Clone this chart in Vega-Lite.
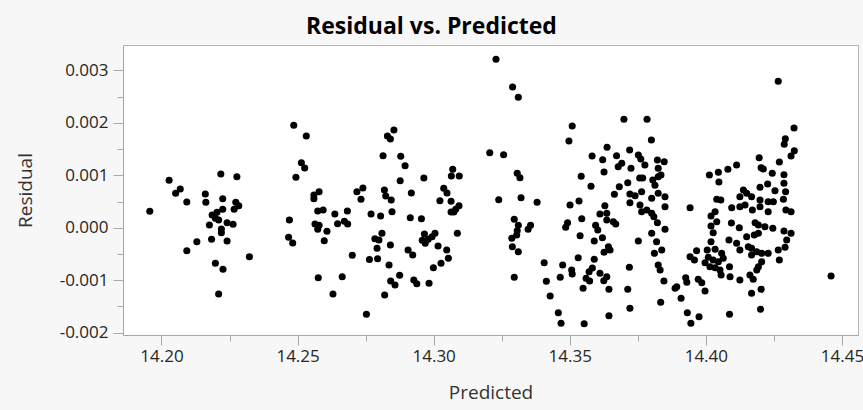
{
  "$schema": "https://vega.github.io/schema/vega-lite/v6.json",
  "width": 735,
  "height": 290,
  "autosize": {"type": "none"},
  "padding": {"left": 123, "top": 45, "right": 5, "bottom": 75},
  "background": "#f7f7f7",
  "title": {
    "text": "Residual vs. Predicted",
    "font": "Open Sans",
    "fontSize": 23,
    "fontWeight": "bold",
    "color": "#000000",
    "anchor": "middle",
    "dx": -59,
    "offset": 6
  },
  "data": {
    "values": [
      {"Predicted": 14.1957, "Residual": 0.000313},
      {"Predicted": 14.2028, "Residual": 0.000904},
      {"Predicted": 14.2069, "Residual": 0.000738},
      {"Predicted": 14.2052, "Residual": 0.000656},
      {"Predicted": 14.2093, "Residual": 0.000490},
      {"Predicted": 14.2218, "Residual": 0.001025},
      {"Predicted": 14.2277, "Residual": 0.000973},
      {"Predicted": 14.2161, "Residual": 0.000643},
      {"Predicted": 14.2163, "Residual": 0.000485},
      {"Predicted": 14.2225, "Residual": 0.000553},
      {"Predicted": 14.2273, "Residual": 0.000485},
      {"Predicted": 14.2284, "Residual": 0.000420},
      {"Predicted": 14.2267, "Residual": 0.000351},
      {"Predicted": 14.2225, "Residual": 0.000351},
      {"Predicted": 14.2204, "Residual": 0.000294},
      {"Predicted": 14.2186, "Residual": 0.000242},
      {"Predicted": 14.2210, "Residual": 0.000147},
      {"Predicted": 14.2198, "Residual": 0.000179},
      {"Predicted": 14.2176, "Residual": 0.000052},
      {"Predicted": 14.2241, "Residual": 0.000095},
      {"Predicted": 14.2263, "Residual": 0.000065},
      {"Predicted": 14.2220, "Residual": -0.000025},
      {"Predicted": 14.2220, "Residual": -0.000095},
      {"Predicted": 14.2184, "Residual": -0.000221},
      {"Predicted": 14.2241, "Residual": -0.000254},
      {"Predicted": 14.2130, "Residual": -0.000267},
      {"Predicted": 14.2093, "Residual": -0.000439},
      {"Predicted": 14.2323, "Residual": -0.000553},
      {"Predicted": 14.2198, "Residual": -0.000679},
      {"Predicted": 14.2226, "Residual": -0.000794},
      {"Predicted": 14.2210, "Residual": -0.001265},
      {"Predicted": 14.2486, "Residual": 0.001954},
      {"Predicted": 14.2532, "Residual": 0.001750},
      {"Predicted": 14.2514, "Residual": 0.001240},
      {"Predicted": 14.2526, "Residual": 0.001139},
      {"Predicted": 14.2494, "Residual": 0.000962},
      {"Predicted": 14.2579, "Residual": 0.000687},
      {"Predicted": 14.2560, "Residual": 0.000624},
      {"Predicted": 14.2560, "Residual": 0.000553},
      {"Predicted": 14.2718, "Residual": 0.000687},
      {"Predicted": 14.2740, "Residual": 0.000757},
      {"Predicted": 14.2733, "Residual": 0.000542},
      {"Predicted": 14.2574, "Residual": 0.000319},
      {"Predicted": 14.2594, "Residual": 0.000338},
      {"Predicted": 14.2637, "Residual": 0.000261},
      {"Predicted": 14.2683, "Residual": 0.000319},
      {"Predicted": 14.2470, "Residual": 0.000147},
      {"Predicted": 14.2564, "Residual": 0.000071},
      {"Predicted": 14.2579, "Residual": 0.000046},
      {"Predicted": 14.2574, "Residual": -0.000031},
      {"Predicted": 14.2608, "Residual": -0.000069},
      {"Predicted": 14.2647, "Residual": 0.000076},
      {"Predicted": 14.2672, "Residual": 0.000122},
      {"Predicted": 14.2684, "Residual": 0.000071},
      {"Predicted": 14.2598, "Residual": -0.000248},
      {"Predicted": 14.2467, "Residual": -0.000183},
      {"Predicted": 14.2482, "Residual": -0.000292},
      {"Predicted": 14.2701, "Residual": -0.000527},
      {"Predicted": 14.2764, "Residual": -0.000607},
      {"Predicted": 14.2576, "Residual": -0.000954},
      {"Predicted": 14.2664, "Residual": -0.000935},
      {"Predicted": 14.2630, "Residual": -0.001265},
      {"Predicted": 14.2753, "Residual": -0.001652},
      {"Predicted": 14.2854, "Residual": 0.001864},
      {"Predicted": 14.2830, "Residual": 0.001750},
      {"Predicted": 14.2841, "Residual": 0.001692},
      {"Predicted": 14.2814, "Residual": 0.001374},
      {"Predicted": 14.2879, "Residual": 0.001362},
      {"Predicted": 14.2895, "Residual": 0.001183},
      {"Predicted": 14.2877, "Residual": 0.000897},
      {"Predicted": 14.2964, "Residual": 0.000948},
      {"Predicted": 14.3070, "Residual": 0.001114},
      {"Predicted": 14.3065, "Residual": 0.000986},
      {"Predicted": 14.3094, "Residual": 0.000986},
      {"Predicted": 14.2819, "Residual": 0.000719},
      {"Predicted": 14.2824, "Residual": 0.000605},
      {"Predicted": 14.2844, "Residual": 0.000529},
      {"Predicted": 14.2918, "Residual": 0.000662},
      {"Predicted": 14.3037, "Residual": 0.000752},
      {"Predicted": 14.3049, "Residual": 0.000662},
      {"Predicted": 14.3023, "Residual": 0.000515},
      {"Predicted": 14.3064, "Residual": 0.000504},
      {"Predicted": 14.3093, "Residual": 0.000420},
      {"Predicted": 14.3081, "Residual": 0.000351},
      {"Predicted": 14.3064, "Residual": 0.000300},
      {"Predicted": 14.3074, "Residual": 0.000300},
      {"Predicted": 14.2770, "Residual": 0.000261},
      {"Predicted": 14.2805, "Residual": 0.000223},
      {"Predicted": 14.2847, "Residual": 0.000305},
      {"Predicted": 14.2914, "Residual": 0.000191},
      {"Predicted": 14.2955, "Residual": 0.000172},
      {"Predicted": 14.3087, "Residual": -0.000107},
      {"Predicted": 14.2810, "Residual": -0.000107},
      {"Predicted": 14.2784, "Residual": -0.000210},
      {"Predicted": 14.2799, "Residual": -0.000235},
      {"Predicted": 14.2792, "Residual": -0.000393},
      {"Predicted": 14.2841, "Residual": -0.000330},
      {"Predicted": 14.2966, "Residual": -0.000120},
      {"Predicted": 14.2958, "Residual": -0.000240},
      {"Predicted": 14.2980, "Residual": -0.000221},
      {"Predicted": 14.3005, "Residual": -0.000107},
      {"Predicted": 14.2994, "Residual": -0.000172},
      {"Predicted": 14.2969, "Residual": -0.000298},
      {"Predicted": 14.3016, "Residual": -0.000349},
      {"Predicted": 14.3048, "Residual": -0.000425},
      {"Predicted": 14.2906, "Residual": -0.000425},
      {"Predicted": 14.2923, "Residual": -0.000521},
      {"Predicted": 14.2794, "Residual": -0.000591},
      {"Predicted": 14.2836, "Residual": -0.000712},
      {"Predicted": 14.3054, "Residual": -0.000584},
      {"Predicted": 14.3027, "Residual": -0.000679},
      {"Predicted": 14.2999, "Residual": -0.000763},
      {"Predicted": 14.2875, "Residual": -0.000908},
      {"Predicted": 14.2842, "Residual": -0.001017},
      {"Predicted": 14.2858, "Residual": -0.001093},
      {"Predicted": 14.2927, "Residual": -0.000998},
      {"Predicted": 14.2938, "Residual": -0.001068},
      {"Predicted": 14.2983, "Residual": -0.001061},
      {"Predicted": 14.2820, "Residual": -0.001284},
      {"Predicted": 14.3206, "Residual": 0.001431},
      {"Predicted": 14.3229, "Residual": 0.003213},
      {"Predicted": 14.3290, "Residual": 0.002685},
      {"Predicted": 14.3311, "Residual": 0.002488},
      {"Predicted": 14.3509, "Residual": 0.001940},
      {"Predicted": 14.3497, "Residual": 0.001654},
      {"Predicted": 14.3257, "Residual": 0.001393},
      {"Predicted": 14.3637, "Residual": 0.001534},
      {"Predicted": 14.3582, "Residual": 0.001368},
      {"Predicted": 14.3621, "Residual": 0.001297},
      {"Predicted": 14.3626, "Residual": 0.001063},
      {"Predicted": 14.3307, "Residual": 0.001038},
      {"Predicted": 14.3317, "Residual": 0.000954},
      {"Predicted": 14.3542, "Residual": 0.000981},
      {"Predicted": 14.3578, "Residual": 0.000790},
      {"Predicted": 14.3239, "Residual": 0.000534},
      {"Predicted": 14.3321, "Residual": 0.000572},
      {"Predicted": 14.3380, "Residual": 0.000485},
      {"Predicted": 14.3501, "Residual": 0.000433},
      {"Predicted": 14.3534, "Residual": 0.000509},
      {"Predicted": 14.3629, "Residual": 0.000420},
      {"Predicted": 14.3611, "Residual": 0.000261},
      {"Predicted": 14.3636, "Residual": 0.000147},
      {"Predicted": 14.3296, "Residual": 0.000160},
      {"Predicted": 14.3311, "Residual": 0.000046},
      {"Predicted": 14.3307, "Residual": -0.000057},
      {"Predicted": 14.3305, "Residual": -0.000139},
      {"Predicted": 14.3287, "Residual": -0.000202},
      {"Predicted": 14.3289, "Residual": -0.000363},
      {"Predicted": 14.3311, "Residual": -0.000458},
      {"Predicted": 14.3356, "Residual": 0.000046},
      {"Predicted": 14.3347, "Residual": -0.000031},
      {"Predicted": 14.3492, "Residual": 0.000095},
      {"Predicted": 14.3485, "Residual": 0.000008},
      {"Predicted": 14.3544, "Residual": 0.000172},
      {"Predicted": 14.3595, "Residual": 0.000046},
      {"Predicted": 14.3603, "Residual": -0.000044},
      {"Predicted": 14.3538, "Residual": -0.000153},
      {"Predicted": 14.3620, "Residual": -0.000191},
      {"Predicted": 14.3590, "Residual": -0.000254},
      {"Predicted": 14.3642, "Residual": -0.000363},
      {"Predicted": 14.3626, "Residual": -0.000469},
      {"Predicted": 14.3531, "Residual": -0.000572},
      {"Predicted": 14.3590, "Residual": -0.000603},
      {"Predicted": 14.3406, "Residual": -0.000668},
      {"Predicted": 14.3474, "Residual": -0.000712},
      {"Predicted": 14.3583, "Residual": -0.000769},
      {"Predicted": 14.3571, "Residual": -0.000840},
      {"Predicted": 14.3611, "Residual": -0.000870},
      {"Predicted": 14.3507, "Residual": -0.000807},
      {"Predicted": 14.3509, "Residual": -0.000883},
      {"Predicted": 14.3465, "Residual": -0.000946},
      {"Predicted": 14.3560, "Residual": -0.000965},
      {"Predicted": 14.3573, "Residual": -0.001017},
      {"Predicted": 14.3625, "Residual": -0.001011},
      {"Predicted": 14.3296, "Residual": -0.000946},
      {"Predicted": 14.3414, "Residual": -0.001023},
      {"Predicted": 14.3549, "Residual": -0.001156},
      {"Predicted": 14.3644, "Residual": -0.001175},
      {"Predicted": 14.3428, "Residual": -0.001303},
      {"Predicted": 14.3458, "Residual": -0.001622},
      {"Predicted": 14.3468, "Residual": -0.001824},
      {"Predicted": 14.3553, "Residual": -0.001832},
      {"Predicted": 14.3644, "Residual": -0.001679},
      {"Predicted": 14.3699, "Residual": 0.002068},
      {"Predicted": 14.3784, "Residual": 0.002068},
      {"Predicted": 14.3800, "Residual": 0.001673},
      {"Predicted": 14.3720, "Residual": 0.001483},
      {"Predicted": 14.3672, "Residual": 0.001374},
      {"Predicted": 14.3752, "Residual": 0.001387},
      {"Predicted": 14.3761, "Residual": 0.001311},
      {"Predicted": 14.3691, "Residual": 0.001229},
      {"Predicted": 14.3678, "Residual": 0.001164},
      {"Predicted": 14.3725, "Residual": 0.001133},
      {"Predicted": 14.3776, "Residual": 0.001196},
      {"Predicted": 14.3822, "Residual": 0.001292},
      {"Predicted": 14.3847, "Residual": 0.001259},
      {"Predicted": 14.3825, "Residual": 0.001133},
      {"Predicted": 14.3713, "Residual": 0.000859},
      {"Predicted": 14.3757, "Residual": 0.000948},
      {"Predicted": 14.3768, "Residual": 0.000948},
      {"Predicted": 14.3805, "Residual": 0.000910},
      {"Predicted": 14.3825, "Residual": 0.000973},
      {"Predicted": 14.3835, "Residual": 0.001006},
      {"Predicted": 14.3813, "Residual": 0.000809},
      {"Predicted": 14.3682, "Residual": 0.000782},
      {"Predicted": 14.3664, "Residual": 0.000637},
      {"Predicted": 14.3721, "Residual": 0.000643},
      {"Predicted": 14.3740, "Residual": 0.000611},
      {"Predicted": 14.3764, "Residual": 0.000687},
      {"Predicted": 14.3825, "Residual": 0.000656},
      {"Predicted": 14.3850, "Residual": 0.000591},
      {"Predicted": 14.3801, "Residual": 0.000561},
      {"Predicted": 14.3721, "Residual": 0.000477},
      {"Predicted": 14.3758, "Residual": 0.000433},
      {"Predicted": 14.3850, "Residual": 0.000401},
      {"Predicted": 14.3764, "Residual": 0.000305},
      {"Predicted": 14.3783, "Residual": 0.000338},
      {"Predicted": 14.3801, "Residual": 0.000275},
      {"Predicted": 14.3636, "Residual": 0.000275},
      {"Predicted": 14.3660, "Residual": 0.000114},
      {"Predicted": 14.3669, "Residual": 0.000071},
      {"Predicted": 14.3809, "Residual": 0.000210},
      {"Predicted": 14.3822, "Residual": 0.000095},
      {"Predicted": 14.3942, "Residual": 0.000382},
      {"Predicted": 14.4013, "Residual": 0.001006},
      {"Predicted": 14.4046, "Residual": 0.001057},
      {"Predicted": 14.4081, "Residual": 0.001114},
      {"Predicted": 14.4048, "Residual": 0.000872},
      {"Predicted": 14.4040, "Residual": 0.000542},
      {"Predicted": 14.4055, "Residual": 0.000529},
      {"Predicted": 14.4034, "Residual": 0.000305},
      {"Predicted": 14.4019, "Residual": 0.000223},
      {"Predicted": 14.4040, "Residual": 0.000114},
      {"Predicted": 14.4019, "Residual": 0.000032},
      {"Predicted": 14.4027, "Residual": -0.000095},
      {"Predicted": 14.3850, "Residual": -0.000031},
      {"Predicted": 14.3801, "Residual": -0.000107},
      {"Predicted": 14.3752, "Residual": -0.000254},
      {"Predicted": 14.3819, "Residual": -0.000267},
      {"Predicted": 14.4085, "Residual": -0.000235},
      {"Predicted": 14.4019, "Residual": -0.000267},
      {"Predicted": 14.3648, "Residual": -0.000425},
      {"Predicted": 14.3838, "Residual": -0.000425},
      {"Predicted": 14.3811, "Residual": -0.000488},
      {"Predicted": 14.3966, "Residual": -0.000439},
      {"Predicted": 14.4005, "Residual": -0.000425},
      {"Predicted": 14.4034, "Residual": -0.000412},
      {"Predicted": 14.4058, "Residual": -0.000488},
      {"Predicted": 14.3942, "Residual": -0.000553},
      {"Predicted": 14.3958, "Residual": -0.000616},
      {"Predicted": 14.4009, "Residual": -0.000565},
      {"Predicted": 14.4027, "Residual": -0.000616},
      {"Predicted": 14.4046, "Residual": -0.000649},
      {"Predicted": 14.4064, "Residual": -0.000584},
      {"Predicted": 14.3997, "Residual": -0.000668},
      {"Predicted": 14.4015, "Residual": -0.000744},
      {"Predicted": 14.4034, "Residual": -0.000763},
      {"Predicted": 14.3825, "Residual": -0.000712},
      {"Predicted": 14.3832, "Residual": -0.000807},
      {"Predicted": 14.3719, "Residual": -0.000756},
      {"Predicted": 14.4052, "Residual": -0.000807},
      {"Predicted": 14.4056, "Residual": -0.000902},
      {"Predicted": 14.4087, "Residual": -0.000744},
      {"Predicted": 14.3636, "Residual": -0.000935},
      {"Predicted": 14.3846, "Residual": -0.001017},
      {"Predicted": 14.3926, "Residual": -0.000954},
      {"Predicted": 14.3930, "Residual": -0.001042},
      {"Predicted": 14.3972, "Residual": -0.000985},
      {"Predicted": 14.3985, "Residual": -0.001049},
      {"Predicted": 14.3893, "Residual": -0.001126},
      {"Predicted": 14.3887, "Residual": -0.001156},
      {"Predicted": 14.3713, "Residual": -0.001175},
      {"Predicted": 14.3997, "Residual": -0.001208},
      {"Predicted": 14.3909, "Residual": -0.001347},
      {"Predicted": 14.3834, "Residual": -0.001423},
      {"Predicted": 14.3721, "Residual": -0.001538},
      {"Predicted": 14.3932, "Residual": -0.001622},
      {"Predicted": 14.3975, "Residual": -0.001698},
      {"Predicted": 14.3945, "Residual": -0.001824},
      {"Predicted": 14.4087, "Residual": -0.001652},
      {"Predicted": 14.4266, "Residual": 0.002793},
      {"Predicted": 14.4324, "Residual": 0.001902},
      {"Predicted": 14.4292, "Residual": 0.001698},
      {"Predicted": 14.4288, "Residual": 0.001591},
      {"Predicted": 14.4325, "Residual": 0.001469},
      {"Predicted": 14.4313, "Residual": 0.001368},
      {"Predicted": 14.4196, "Residual": 0.001336},
      {"Predicted": 14.4270, "Residual": 0.001254},
      {"Predicted": 14.4113, "Residual": 0.001196},
      {"Predicted": 14.4203, "Residual": 0.001145},
      {"Predicted": 14.4211, "Residual": 0.001120},
      {"Predicted": 14.4244, "Residual": 0.001038},
      {"Predicted": 14.4287, "Residual": 0.001011},
      {"Predicted": 14.4287, "Residual": 0.000847},
      {"Predicted": 14.4227, "Residual": 0.000834},
      {"Predicted": 14.4199, "Residual": 0.000771},
      {"Predicted": 14.4138, "Residual": 0.000719},
      {"Predicted": 14.4150, "Residual": 0.000656},
      {"Predicted": 14.4254, "Residual": 0.000706},
      {"Predicted": 14.4293, "Residual": 0.000687},
      {"Predicted": 14.4125, "Residual": 0.000591},
      {"Predicted": 14.4168, "Residual": 0.000591},
      {"Predicted": 14.4199, "Residual": 0.000529},
      {"Predicted": 14.4229, "Residual": 0.000496},
      {"Predicted": 14.4248, "Residual": 0.000496},
      {"Predicted": 14.4285, "Residual": 0.000542},
      {"Predicted": 14.4095, "Residual": 0.000382},
      {"Predicted": 14.4125, "Residual": 0.000401},
      {"Predicted": 14.4144, "Residual": 0.000433},
      {"Predicted": 14.4171, "Residual": 0.000338},
      {"Predicted": 14.4199, "Residual": 0.000401},
      {"Predicted": 14.4229, "Residual": 0.000305},
      {"Predicted": 14.4294, "Residual": 0.000338},
      {"Predicted": 14.4313, "Residual": 0.000305},
      {"Predicted": 14.4094, "Residual": 0.000090},
      {"Predicted": 14.4123, "Residual": 0.000000},
      {"Predicted": 14.4181, "Residual": 0.000095},
      {"Predicted": 14.4193, "Residual": 0.000052},
      {"Predicted": 14.4217, "Residual": 0.000019},
      {"Predicted": 14.4246, "Residual": -0.000011},
      {"Predicted": 14.4287, "Residual": -0.000063},
      {"Predicted": 14.4313, "Residual": -0.000107},
      {"Predicted": 14.4150, "Residual": -0.000172},
      {"Predicted": 14.4178, "Residual": -0.000139},
      {"Predicted": 14.4193, "Residual": -0.000107},
      {"Predicted": 14.4113, "Residual": -0.000298},
      {"Predicted": 14.4125, "Residual": -0.000425},
      {"Predicted": 14.4156, "Residual": -0.000363},
      {"Predicted": 14.4168, "Residual": -0.000393},
      {"Predicted": 14.4187, "Residual": -0.000458},
      {"Predicted": 14.4205, "Residual": -0.000488},
      {"Predicted": 14.4229, "Residual": -0.000488},
      {"Predicted": 14.4266, "Residual": -0.000425},
      {"Predicted": 14.4291, "Residual": -0.000374},
      {"Predicted": 14.4297, "Residual": -0.000235},
      {"Predicted": 14.4168, "Residual": -0.000521},
      {"Predicted": 14.4270, "Residual": -0.000616},
      {"Predicted": 14.4205, "Residual": -0.000649},
      {"Predicted": 14.4193, "Residual": -0.000744},
      {"Predicted": 14.4187, "Residual": -0.000807},
      {"Predicted": 14.4089, "Residual": -0.000935},
      {"Predicted": 14.4125, "Residual": -0.000998},
      {"Predicted": 14.4162, "Residual": -0.000902},
      {"Predicted": 14.4174, "Residual": -0.000985},
      {"Predicted": 14.4203, "Residual": -0.001175},
      {"Predicted": 14.4168, "Residual": -0.001252},
      {"Predicted": 14.4201, "Residual": -0.001557},
      {"Predicted": 14.4460, "Residual": -0.000922}
    ]
  },
  "layer": [
    {
      "mark": {"type": "circle", "size": 50, "color": "#000000", "opacity": 1},
      "encoding": {
        "x": {
          "field": "Predicted",
          "type": "quantitative",
          "scale": {"domain": [14.18586, 14.4559], "nice": false, "zero": false},
          "axis": {
            "values": [14.2, 14.25, 14.3, 14.35, 14.4, 14.45],
            "format": ".2f",
            "title": "Predicted",
            "orient": "bottom",
            "tickSize": 10,
            "labelPadding": 3,
            "titlePadding": 19
          }
        },
        "y": {
          "field": "Residual",
          "type": "quantitative",
          "scale": {"domain": [-0.002047, 0.003486], "nice": false, "zero": false},
          "axis": {
            "values": [-0.002, -0.001, 0, 0.001, 0.002, 0.003],
            "labelExpr": "replace(format(datum.value, '.3f'), '\u2212', '-')",
            "title": "Residual",
            "orient": "left",
            "tickSize": 10,
            "labelPadding": 5,
            "titlePadding": 24
          }
        }
      }
    },
    {
      "mark": {"type": "circle", "size": 50, "opacity": 0},
      "encoding": {
        "x": {
          "field": "Predicted",
          "type": "quantitative",
          "axis": {
            "values": [14.225, 14.275, 14.325, 14.375, 14.425],
            "labels": false,
            "title": null,
            "domain": false,
            "orient": "bottom",
            "tickSize": 6
          }
        },
        "y": {
          "field": "Residual",
          "type": "quantitative",
          "axis": {
            "values": [-0.0015, -0.0005, 0.0005, 0.0015, 0.0025],
            "labels": false,
            "title": null,
            "domain": false,
            "orient": "left",
            "tickSize": 6
          }
        }
      }
    }
  ],
  "resolve": {"axis": {"x": "independent", "y": "independent"}},
  "config": {
    "view": {"stroke": "#b4b4b4", "fill": "#ffffff"},
    "axis": {
      "grid": false,
      "domainColor": "#a8a8a8",
      "tickColor": "#a8a8a8",
      "labelFont": "Open Sans",
      "labelFontSize": 17,
      "labelColor": "#262626",
      "titleFont": "Open Sans",
      "titleFontSize": 19,
      "titleFontWeight": "normal",
      "titleColor": "#333333"
    }
  }
}
